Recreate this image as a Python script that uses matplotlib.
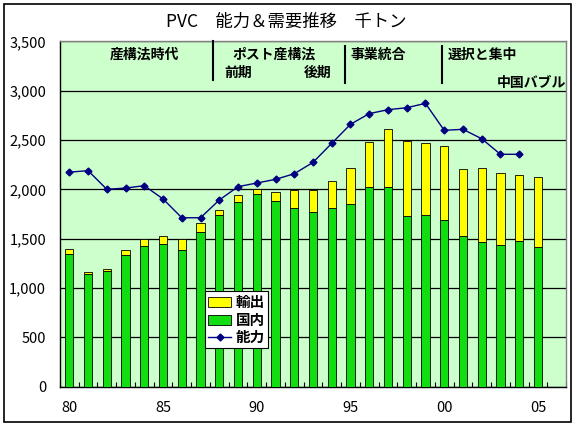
import numpy as np
import matplotlib
matplotlib.use('Agg')
import matplotlib.pyplot as plt
from matplotlib.patches import Rectangle
from matplotlib.ticker import FuncFormatter, FixedLocator

plt.rcParams['font.family'] = ['Noto Sans CJK JP', 'DejaVu Sans']

years = list(range(1980, 2007))
domestic = [1340, 1140, 1170, 1330, 1430, 1450, 1390, 1565, 1737, 1875, 1953, 1878, 1808,
            1767, 1808, 1851, 2023, 2023, 1726, 1737, 1686, 1525, 1463, 1435, 1475, 1413, np.nan]
total = [1395, 1160, 1192, 1385, 1493, 1532, 1500, 1662, 1787, 1943, 2006, 1970, 1996,
         1990, 2084, 2216, 2476, 2611, 2489, 2469, 2439, 2206, 2216, 2165, 2145, 2125, np.nan]
export = [t - d for t, d in zip(total, domestic)]
capacity = [2174, 2189, 2000, 2013, 2037, 1902, 1712, 1712, 1892, 2027, 2064, 2101, 2158,
            2273, 2466, 2659, 2767, 2807, 2827, 2871, 2598, 2608, 2513, 2355, 2355, np.nan, np.nan]
label_years = [1980, 1985, 1990, 1995, 2000, 2005]

fig = plt.figure(figsize=(5.77, 4.28), dpi=100)
fig.patch.set_facecolor('white')
fig.patches.append(Rectangle((3.5 / 577, 6.5 / 428), 567.5 / 577, 418 / 428, transform=fig.transFigure,
                             fill=False, edgecolor='black', linewidth=1.2))

ax = fig.add_axes([60 / 577, 41.3 / 428, 506 / 577, 345.4 / 428])
ax.set_facecolor('#ccffcc')

x = np.arange(len(years))
w = 0.44
b_dom = ax.bar(x, domestic, w, color='#11dd11', edgecolor='black', linewidth=0.6, zorder=3)
b_exp = ax.bar(x, export, w, bottom=domestic, color='#ffff00', edgecolor='black', linewidth=0.6, zorder=3)
ln_cap, = ax.plot(x, capacity, color='#000080', marker='D', markersize=3.5, linewidth=1, zorder=4)

ax.set_xlim(-0.5, len(years) - 0.5)
ax.set_ylim(0, 3500)
ax.set_yticks(np.arange(0, 3501, 500))
ax.yaxis.set_major_formatter(FuncFormatter(lambda v, p: f'{int(v):,}'))
ax.grid(axis='y', color='black', linewidth=0.9, zorder=1)
ax.tick_params(axis='y', length=0, pad=10, labelsize=10.5)

ax.xaxis.set_major_locator(FixedLocator([years.index(y) for y in label_years]))
ax.set_xticklabels([f'{y % 100:02d}' for y in label_years])
ax.xaxis.set_minor_locator(FixedLocator(np.arange(-0.5, len(years), 1.0)))
ax.tick_params(axis='x', which='major', length=0, pad=10, labelsize=10.5)
ax.tick_params(axis='x', which='minor', direction='in', length=3.5, width=0.8)

for s in ['left', 'bottom']:
    ax.spines[s].set_color('black')
    ax.spines[s].set_linewidth(1)
for s in ['top', 'right']:
    ax.spines[s].set_color('#808080')
    ax.spines[s].set_linewidth(1)

fig.text(286 / 577, 1 - 22 / 428, 'PVC\u3000能力＆需要推移\u3000千トン', ha='center', va='center', fontsize=12.5)

# era annotations
eras = [
    (144, 55, '産構法時代'), (274, 55, 'ポスト産構法'), (238, 73, '前期'), (318, 73, '後期'),
    (378, 55, '事業統合'), (482, 55, '選択と集中'), (531, 83, '中国バブル'),
]
for px, py, t in eras:
    fig.text(px / 577, 1 - py / 428, t, ha='center', va='center', fontsize=10, fontweight='bold')
for lx, y0, y1 in [(213, 41, 80), (345, 46, 83), (442, 46, 83)]:
    fig.add_artist(plt.Line2D([lx / 577, lx / 577], [1 - y0 / 428, 1 - y1 / 428], color='black', linewidth=1.5))

leg = ax.legend([b_exp, b_dom, ln_cap], ['輸出', '国内', '能力'], loc='upper left',
                bbox_to_anchor=(0.287, 0.276), fontsize=10.5, frameon=True, fancybox=False,
                edgecolor='black', framealpha=1, borderpad=0.2, labelspacing=0.1,
                handlelength=1.6, handletextpad=0.3, borderaxespad=0)
leg.get_frame().set_linewidth(0.8)
for t in leg.get_texts():
    t.set_fontweight('bold')

fig.savefig('out.png', dpi=100)
